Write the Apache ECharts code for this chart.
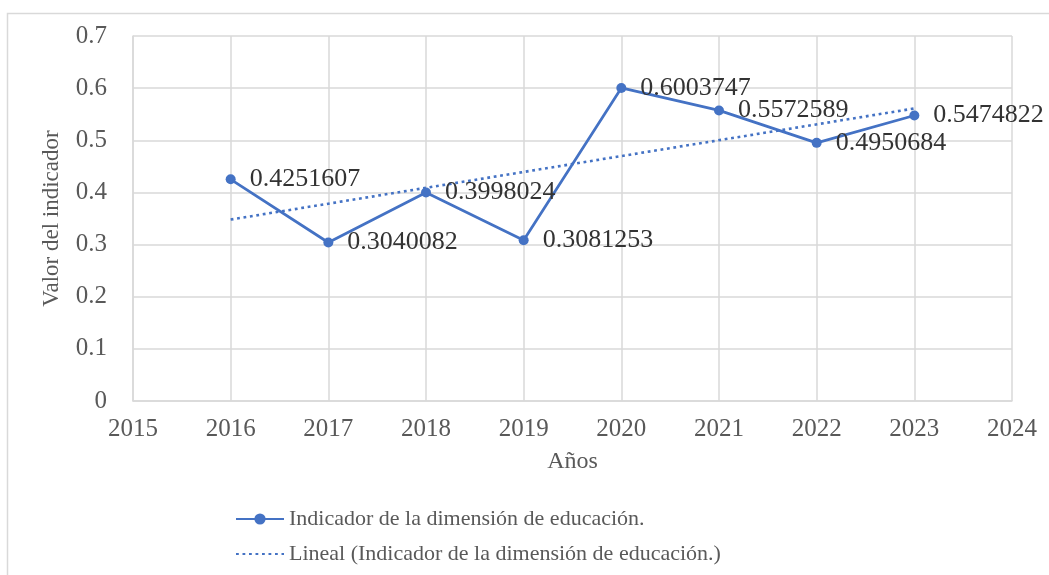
<!DOCTYPE html>
<html>
<head>
<meta charset="utf-8">
<script src="https://cdn.jsdelivr.net/npm/echarts@6/dist/echarts.min.js"></script>
<style>
html,body{margin:0;padding:0;background:#fff;}
#c{width:1049px;height:575px;}
</style>
</head>
<body>
<div id="c"></div>
<script>
const years = [2016, 2017, 2018, 2019, 2020, 2021, 2022, 2023];
const values = [0.4251607, 0.3040082, 0.3998024, 0.3081253, 0.6003747, 0.5572589, 0.4950684, 0.5474822];
const trendYears = [2016, 2023];
const trendValues = [0.348, 0.561];
const seriesName = 'Indicador de la dimensión de educación.';
const trendName = 'Lineal (Indicador de la dimensión de educación.)';
const xTitle = 'Años';
const yTitle = 'Valor del indicador';

const FONT = '"Liberation Serif", "Times New Roman", serif';
const BLUE = '#4472C4';

const chart = echarts.init(document.getElementById('c'), null, {renderer: 'canvas'});
chart.setOption({
  backgroundColor: '#ffffff',
  animation: false,
  textStyle: {fontFamily: FONT},
  graphic: [{
    type: 'rect', silent: true,
    shape: {x: 7.5, y: 13.5, width: 1100, height: 600},
    style: {fill: 'none', stroke: '#d9d9d9', lineWidth: 1.5}
  }],
  grid: {left: 133, right: 37, top: 36, bottom: 174, containLabel: false},
  xAxis: {
    type: 'value', min: 2015, max: 2024, interval: 1,
    name: xTitle, nameLocation: 'middle', nameGap: 49,
    nameTextStyle: {color: '#595959', fontSize: 24, fontFamily: FONT},
    axisLine: {show: true, lineStyle: {color: '#d9d9d9', width: 1.5}},
    axisTick: {show: false},
    axisLabel: {color: '#595959', fontSize: 25, fontFamily: FONT, margin: 16, formatter: v => String(v)},
    splitLine: {show: true, lineStyle: {color: '#d9d9d9', width: 1.5}}
  },
  yAxis: {
    type: 'value', min: 0, max: 0.7, interval: 0.1,
    name: yTitle, nameLocation: 'middle', nameGap: 70,
    nameTextStyle: {color: '#595959', fontSize: 23, fontFamily: FONT},
    axisLine: {show: true, lineStyle: {color: '#d9d9d9', width: 1.5}},
    axisTick: {show: false},
    axisLabel: {color: '#595959', fontSize: 25, fontFamily: FONT, margin: 26, formatter: v => String(+v.toFixed(1))},
    splitLine: {show: true, lineStyle: {color: '#d9d9d9', width: 1.5}}
  },
  legend: {
    orient: 'vertical', left: 230, top: 503,
    itemWidth: 48, itemHeight: 14, itemGap: 13,
    textStyle: {color: '#595959', fontSize: 22, fontFamily: FONT},
    data: [
      {name: seriesName},
      {name: trendName, itemStyle: {opacity: 0}}
    ]
  },
  series: [
    {
      name: seriesName, type: 'line',
      data: years.map((y, i) => [y, values[i]]),
      symbol: 'circle', symbolSize: 10,
      lineStyle: {color: BLUE, width: 2.75},
      itemStyle: {color: BLUE},
      label: {
        show: true, position: 'right', distance: 14,
        color: '#333333', fontSize: 26, fontFamily: FONT,
        formatter: p => String(p.value[1])
      },
      z: 3
    },
    {
      name: trendName, type: 'line',
      data: trendYears.map((y, i) => [y, trendValues[i]]),
      symbol: 'none', showSymbol: false,
      lineStyle: {color: BLUE, width: 2.6, type: [2.8, 3.7]},
      itemStyle: {color: BLUE},
      z: 2
    }
  ]
});
</script>
</body>
</html>
